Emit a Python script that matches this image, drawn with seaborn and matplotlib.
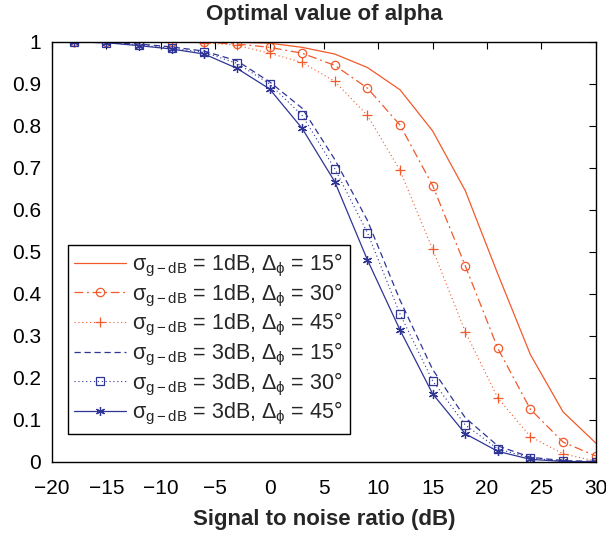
import pandas as pd
import matplotlib
matplotlib.use("Agg")
import matplotlib.pyplot as plt
import seaborn as sns

# SNR grid (dB)
snr = [-18, -15, -12, -9, -6, -3, 0, 3, 6, 9, 12, 15, 18, 21, 24, 27, 30]

# optimal alpha
alpha_1db_15 = [1.0, 1.0, 1.0, 1.0, 1.0, 0.999, 0.997, 0.987, 0.971, 0.939,
                0.886, 0.788, 0.646, 0.447, 0.255, 0.119, 0.045]
alpha_1db_30 = [1.0, 1.0, 1.0, 1.0, 0.999, 0.995, 0.987, 0.973, 0.944, 0.890,
                0.802, 0.658, 0.467, 0.270, 0.125, 0.047, 0.014]
alpha_1db_45 = [1.0, 1.0, 1.0, 1.0, 0.998, 0.992, 0.973, 0.951, 0.906, 0.825,
                0.694, 0.506, 0.310, 0.152, 0.060, 0.019, 0.002]
alpha_3db_15 = [1.0, 0.998, 0.995, 0.988, 0.978, 0.955, 0.905, 0.842, 0.720,
                0.575, 0.385, 0.220, 0.105, 0.038, 0.011, 0.003, 0.001]
alpha_3db_30 = [1.0, 0.998, 0.993, 0.985, 0.975, 0.949, 0.900, 0.825, 0.698,
                0.546, 0.352, 0.193, 0.088, 0.031, 0.009, 0.002, 0.0]
alpha_3db_45 = [1.0, 0.998, 0.991, 0.983, 0.971, 0.937, 0.888, 0.794, 0.667,
                0.481, 0.314, 0.162, 0.067, 0.025, 0.006, 0.001, 0.0]

labels = [
    r"σ$_{\mathregular{g-dB}}$ = 1dB, Δ$_{\phi}$ = 15°",
    r"σ$_{\mathregular{g-dB}}$ = 1dB, Δ$_{\phi}$ = 30°",
    r"σ$_{\mathregular{g-dB}}$ = 1dB, Δ$_{\phi}$ = 45°",
    r"σ$_{\mathregular{g-dB}}$ = 3dB, Δ$_{\phi}$ = 15°",
    r"σ$_{\mathregular{g-dB}}$ = 3dB, Δ$_{\phi}$ = 30°",
    r"σ$_{\mathregular{g-dB}}$ = 3dB, Δ$_{\phi}$ = 45°",
]
series = [alpha_1db_15, alpha_1db_30, alpha_1db_45,
          alpha_3db_15, alpha_3db_30, alpha_3db_45]

red = "#f15a2b"
blue = "#2e3595"
styles = [
    dict(color=red, linestyle="-", linewidth=0.9, marker="None"),
    dict(color=red, linestyle=(0, (7, 3, 1.5, 3)), linewidth=0.9, marker="o",
         markerfacecolor="none", markersize=6),
    dict(color=red, linestyle=(0, (1, 2.5)), linewidth=0.8, marker="+",
         markersize=7),
    dict(color=blue, linestyle=(0, (5, 3)), linewidth=0.9, marker="None"),
    dict(color=blue, linestyle=(0, (1, 2.5)), linewidth=0.8, marker="s",
         markerfacecolor="none", markersize=5.5),
    dict(color=blue, linestyle="-", linewidth=0.9, marker=(6, 2, 0),
         markersize=6.5),
]

sns.set_style("white")
plt.rcParams["font.family"] = ["Liberation Sans", "DejaVu Sans"]
plt.rcParams["mathtext.fontset"] = "custom"
plt.rcParams["mathtext.rm"] = "Liberation Sans"
plt.rcParams["mathtext.it"] = "Liberation Sans"

fig = plt.figure(figsize=(6.06, 5.44), dpi=100)
ax = fig.add_axes([0.086, 0.151, 0.897, 0.772])

for vals, lab, st in zip(series, labels, styles):
    df = pd.DataFrame({"snr": snr, "alpha": vals})
    sns.lineplot(data=df, x="snr", y="alpha", ax=ax, color=st["color"],
                 legend=False)
    line = ax.lines[-1]
    line.set(label=lab, markeredgewidth=0.9, markeredgecolor=st["color"], **st)

ax.set_xlim(-20, 30)
ax.set_ylim(0, 1)
ax.set_xticks(range(-20, 31, 5))
ax.set_xticklabels([str(t).replace("-", "\u2212") for t in range(-20, 31, 5)])
yt = [i / 10 for i in range(11)]
ax.set_yticks(yt)
ax.set_yticklabels(["0"] + [f"{v:.1f}" for v in yt[1:-1]] + ["1"])
ax.tick_params(direction="in", top=True, right=True, length=5, width=0.8,
               labelsize=15, colors="black")
ax.tick_params(axis="x", pad=12)
ax.tick_params(axis="y", pad=8)
for sp in ax.spines.values():
    sp.set_color("black")
    sp.set_linewidth(1.0)

ax.set_title("Optimal value of alpha", fontsize=16, fontweight="bold", pad=16)
ax.set_xlabel("Signal to noise ratio (dB)", fontsize=16, fontweight="bold", labelpad=8)
ax.set_ylabel("")

leg = ax.legend(loc="lower left", bbox_to_anchor=(0.029, 0.067), borderaxespad=0,
                fontsize=15.5, frameon=True, fancybox=False, edgecolor="black",
                handlelength=2.4, labelspacing=0.12, borderpad=0.3,
                handletextpad=0.3, numpoints=1)
leg.get_frame().set_linewidth(1.0)
leg.get_frame().set_alpha(1)

fig.savefig("out.png", dpi=100)
